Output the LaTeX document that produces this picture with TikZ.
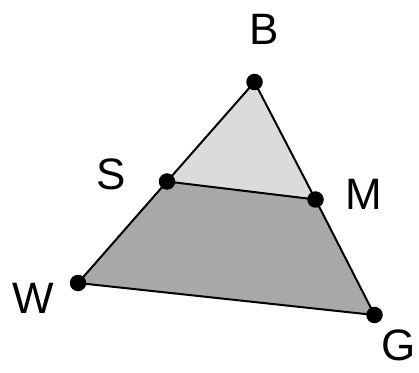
\documentclass[tikz,border=0pt]{standalone}
\usepackage{fontspec}
\setmainfont{Liberation Sans}
\definecolor{lightfill}{HTML}{DADBDC}
\definecolor{darkfill}{HTML}{A7A8AA}
\begin{document}
\begin{tikzpicture}[x=1pt,y=1pt,
  dot/.style={circle,fill=black,inner sep=0pt,minimum size=16.5pt},
  lbl/.style={inner sep=0pt,font=\fontsize{44}{44}\selectfont},
  edge/.style={line width=2pt,line join=round}]
\useasboundingbox (0,0) rectangle (419,372);
\coordinate (b) at (254.5,290);
\coordinate (s) at (167,190.5);
\coordinate (m) at (315.5,172.5);
\coordinate (w) at (78,89);
\coordinate (g) at (374.5,57);
\fill[lightfill] (b) -- (s) -- (m) -- cycle;
\fill[darkfill] (s) -- (w) -- (g) -- (m) -- cycle;
\draw[edge] (b) -- (s) -- (w) -- (g) -- (m) -- cycle;
\draw[edge] (s) -- (m);
\node[dot] (B) at (b) {};
\node[dot] (S) at (s) {};
\node[dot] (M) at (m) {};
\node[dot] (W) at (w) {};
\node[dot] (G) at (g) {};
\node[lbl] (lB) at (264.5,342.5) {B};
\node[lbl] (lS) at (111.5,198) {S};
\node[lbl] (lM) at (364,178) {M};
\node[lbl] (lW) at (33,74) {W};
\node[lbl,anchor=east] (lG) at (416,27) {G};
\end{tikzpicture}
\end{document}
